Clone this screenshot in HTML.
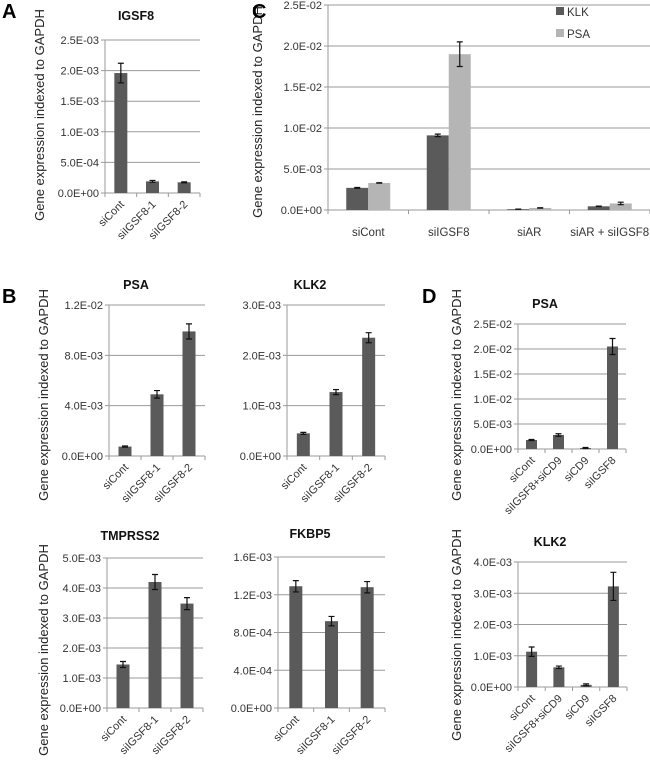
<!DOCTYPE html>
<html><head><meta charset="utf-8"><style>
html,body{margin:0;padding:0;background:#fff;}
svg{display:block;font-family:"Liberation Sans",sans-serif;}
</style></head><body>
<svg id="fig" width="650" height="764" viewBox="0 0 650 764"></svg>
<script>
// ---- data ----
const catsB = ["siCont","siIGSF8-1","siIGSF8-2"];
const catsC = ["siCont","siIGSF8","siAR","siAR + siIGSF8"];
const catsD = ["siCont","siIGSF8+siCD9","siCD9","siIGSF8"];
const igsf8Vals = [1.96e-3, 0.19e-3, 0.175e-3];
const igsf8Err = [0.16e-3, 0.015e-3, 0.008e-3];
const igsf8Ticks = ["0.0E+00","5.0E-04","1.0E-03","1.5E-03","2.0E-03","2.5E-03"];
const psaBVals = [0.75e-3, 4.9e-3, 9.9e-3];
const psaBErr = [0.05e-3, 0.3e-3, 0.6e-3];
const psaBTicks = ["0.0E+00","4.0E-03","8.0E-03","1.2E-02"];
const klk2BVals = [0.45e-3, 1.27e-3, 2.35e-3];
const klk2BErr = [0.02e-3, 0.05e-3, 0.1e-3];
const klk2BTicks = ["0.0E+00","1.0E-03","2.0E-03","3.0E-03"];
const tmprssVals = [1.45e-3, 4.2e-3, 3.48e-3];
const tmprssErr = [0.1e-3, 0.25e-3, 0.2e-3];
const tmprssTicks = ["0.0E+00","1.0E-03","2.0E-03","3.0E-03","4.0E-03","5.0E-03"];
const fkbpVals = [1.29e-3, 0.92e-3, 1.28e-3];
const fkbpErr = [0.06e-3, 0.05e-3, 0.06e-3];
const fkbpTicks = ["0.0E+00","4.0E-04","8.0E-04","1.2E-03","1.6E-03"];
const cKlkVals = [2.7e-3, 9.1e-3, 0.1e-3, 0.45e-3];
const cKlkErr = [0.05e-3, 0.15e-3, 0.01e-3, 0.03e-3];
const cPsaVals = [3.3e-3, 19.0e-3, 0.25e-3, 0.8e-3];
const cPsaErr = [0.02e-3, 1.5e-3, 0.02e-3, 0.15e-3];
const cTicks = ["0.0E+00","5.0E-03","1.0E-02","1.5E-02","2.0E-02","2.5E-02"];
const psaDVals = [1.8e-3, 2.8e-3, 0.2e-3, 20.5e-3];
const psaDErr = [0.1e-3, 0.25e-3, 0.1e-3, 1.6e-3];
const psaDTicks = ["0.0E+00","5.0E-03","1.0E-02","1.5E-02","2.0E-02","2.5E-02"];
const klk2DVals = [1.13e-3, 0.63e-3, 0.07e-3, 3.22e-3];
const klk2DErr = [0.15e-3, 0.04e-3, 0.03e-3, 0.45e-3];
const klk2DTicks = ["0.0E+00","1.0E-03","2.0E-03","3.0E-03","4.0E-03"];

const NS = "http://www.w3.org/2000/svg";
const svg = document.getElementById("fig");
function mk(tag, attrs, parent, txt){
  const e = document.createElementNS(NS, tag);
  for (const k in attrs) e.setAttribute(k, attrs[k]);
  if (txt !== undefined) e.textContent = txt;
  (parent||svg).appendChild(e);
  return e;
}
function chart(o){
  const g = mk("g", {});
  
  
  const max = parseFloat(o.ticks[o.ticks.length-1]);
  const y = v => o.bottom - (v/max)*(o.bottom-o.top);
  const n = o.cats.length;
  const cw = (o.right-o.x0)/n;
  const xc = i => o.x0 + cw*(i+0.5);
  o.ticks.forEach((t)=>{
    const v = parseFloat(t);
    const yy = y(v);
    const gl = mk("line",{x1:o.x0-4,x2:o.right,y1:yy,y2:yy,stroke:"#9a9a9a","stroke-width":1},g);
    
    
    const tl = mk("text",{x:o.x0-6,y:yy+4,"text-anchor":"end","font-size":11,fill:"#333"},g,t);
    
    
  });
  const ax = mk("line",{x1:o.x0,x2:o.x0,y1:o.top,y2:o.bottom,stroke:"#9a9a9a"},g);
  
  
  for(let i=0;i<=n;i++){
    const tx=o.x0+cw*i;
    const tk = mk("line",{x1:tx,x2:tx,y1:o.bottom,y2:o.bottom+4,stroke:"#9a9a9a"},g);
    
    
  }
  const series = o.series;
  const bw = o.bw;
  series.forEach((s,si)=>{
    s.vals.forEach((v,i)=>{
      const cx = xc(i) + (series.length>1 ? (si-0.5)*bw : 0);
      const b = mk("rect",{x:cx-bw/2,y:y(v),width:bw,height:o.bottom-y(v),fill:s.color},g);
      
      
      const e = s.err[i];
      const y1=y(v+e), y2=y(v-e);
      const eb = mk("path",{d:`M${cx},${y1}V${y2}M${cx-3},${y1}H${cx+3}M${cx-3},${y2}H${cx+3}`,stroke:"#111","stroke-width":1.2,fill:"none"},g);
      
      
    });
  });
  o.cats.forEach((c,i)=>{
    let t;
    if(o.rot){
      t = mk("text",{x:xc(i)+4,y:o.bottom+12,"text-anchor":"end","font-size":11,fill:"#333",transform:`rotate(-45 ${xc(i)+4} ${o.bottom+12})`},g,c);
    } else {
      t = mk("text",{x:xc(i),y:o.bottom+26,"text-anchor":"middle","font-size":11.5,fill:"#333"},g,c);
    }
    
    
  });
  if(o.title){
    const tt = mk("text",{x:o.tx,y:o.ty,"text-anchor":"middle","font-size":12.5,"font-weight":"bold",fill:"#111"},g,o.title);
    
    
  }
}
function ytitle(x,yc){
  const t = mk("text",{x:x,y:yc,"text-anchor":"middle","font-size":13,fill:"#222",transform:`rotate(-90 ${x} ${yc})`},svg,"Gene expression indexed to GAPDH");
  
  
}
function letter(x,yy,s){
  const t = mk("text",{x:x,y:yy,"font-size":20,"font-weight":"bold",fill:"#000"},svg,s);
  
  
}
const DARK="#5a5a5a", LIGHT="#b5b5b5";
chart({name:"chart-a-igsf8",cats:catsB,ticks:igsf8Ticks,x0:105,right:200,top:40,bottom:193,bw:13,rot:true,title:"IGSF8",tx:136,ty:20,series:[{vals:igsf8Vals,err:igsf8Err,color:DARK}]});
chart({name:"chart-b-psa",cats:catsB,ticks:psaBTicks,x0:109,right:205,top:305,bottom:456,bw:13,rot:true,title:"PSA",tx:136,ty:289,series:[{vals:psaBVals,err:psaBErr,color:DARK}]});
chart({name:"chart-b-klk2",cats:catsB,ticks:klk2BTicks,x0:287,right:385,top:305,bottom:456,bw:13,rot:true,title:"KLK2",tx:310,ty:289,series:[{vals:klk2BVals,err:klk2BErr,color:DARK}]});
chart({name:"chart-b-tmprss2",cats:catsB,ticks:tmprssTicks,x0:107,right:203,top:558,bottom:708,bw:13,rot:true,title:"TMPRSS2",tx:130,ty:540,series:[{vals:tmprssVals,err:tmprssErr,color:DARK}]});
chart({name:"chart-b-fkbp5",cats:catsB,ticks:fkbpTicks,x0:278,right:385,top:557,bottom:708,bw:13,rot:true,title:"FKBP5",tx:310,ty:538,series:[{vals:fkbpVals,err:fkbpErr,color:DARK}]});
chart({name:"chart-c",cats:catsC,ticks:cTicks,x0:328,right:650,top:5,bottom:210,bw:22,rot:false,series:[{vals:cKlkVals,err:cKlkErr,color:DARK},{vals:cPsaVals,err:cPsaErr,color:LIGHT}]});
chart({name:"chart-d-psa",cats:catsD,ticks:psaDTicks,x0:518,right:626,top:324,bottom:449,bw:11,rot:true,title:"PSA",tx:545,ty:308,series:[{vals:psaDVals,err:psaDErr,color:DARK}]});
chart({name:"chart-d-klk2",cats:catsD,ticks:klk2DTicks,x0:518,right:627,top:562,bottom:687,bw:11,rot:true,title:"KLK2",tx:550,ty:546,series:[{vals:klk2DVals,err:klk2DErr,color:DARK}]});
// legend C
[["KLK",DARK,12],["PSA",LIGHT,34]].forEach(([lab,col,yy])=>{
  const r = mk("rect",{x:556,y:yy-5,width:8,height:8,fill:col});
  
  
  const t = mk("text",{x:567,y:yy+4,"font-size":11.5,fill:"#333"},svg,lab);
  
  
});
ytitle(44,115); ytitle(262,112); ytitle(48,395); ytitle(48,650); ytitle(461,395); ytitle(461,635);
letter(2,18,"A"); letter(2,303,"B"); letter(252,18,"C"); letter(422,303,"D");
</script>
</body></html>
